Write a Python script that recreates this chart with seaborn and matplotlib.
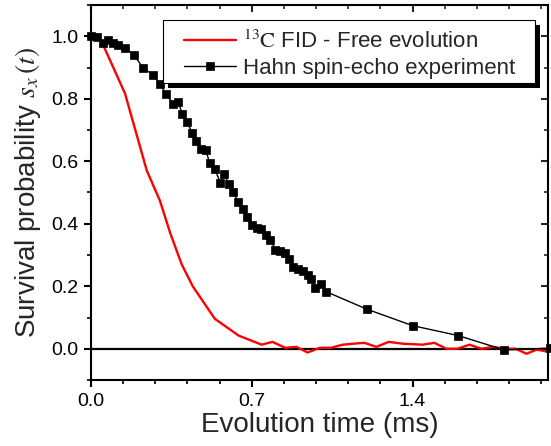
import numpy as np
import pandas as pd
import matplotlib
matplotlib.use("Agg")
import matplotlib.pyplot as plt
from matplotlib.patches import Rectangle
import seaborn as sns

# ---- data ----
fid_t = [0.0, 0.045, 0.148, 0.243, 0.30, 0.345, 0.395, 0.443, 0.539, 0.643, 0.743, 0.79,
         0.846, 0.895, 0.943, 0.996, 1.045, 1.096, 1.14, 1.19, 1.243, 1.296, 1.36,
         1.445, 1.495, 1.548, 1.596, 1.648, 1.70, 1.75, 1.80, 1.85, 1.896, 1.94, 1.966, 1.99]
fid_s = [1.0, 0.985, 0.817, 0.57, 0.474, 0.37, 0.27, 0.20, 0.096, 0.042, 0.013, 0.022,
         0.003, 0.006, -0.012, 0.003, 0.003, 0.013, 0.016, 0.019, 0.006, 0.022, 0.016,
         0.013, 0.019, 0.0, 0.0, 0.013, 0.0, 0.006, 0.0, 0.0, -0.016, -0.003, -0.006, -0.01]

echo_t = [0.0, 0.027, 0.054, 0.075, 0.097, 0.119, 0.148, 0.188, 0.228, 0.271, 0.30, 0.325,
          0.358, 0.38, 0.398, 0.419, 0.441, 0.459, 0.481, 0.50, 0.517, 0.539, 0.563, 0.58,
          0.60, 0.62, 0.64, 0.66, 0.681, 0.701, 0.723, 0.742, 0.764, 0.781, 0.803, 0.822,
          0.843, 0.861, 0.88, 0.901, 0.923, 0.945, 0.959, 0.976, 1.0, 1.023,
          1.20, 1.40, 1.60, 1.80, 2.0]
echo_s = [1.0, 0.998, 0.977, 0.987, 0.98, 0.971, 0.963, 0.94, 0.897, 0.877, 0.848, 0.816,
          0.784, 0.79, 0.75, 0.725, 0.69, 0.664, 0.64, 0.635, 0.594, 0.576, 0.531, 0.558,
          0.527, 0.501, 0.47, 0.448, 0.421, 0.397, 0.387, 0.384, 0.365, 0.349, 0.317, 0.312,
          0.306, 0.288, 0.263, 0.255, 0.248, 0.237, 0.223, 0.196, 0.206, 0.183,
          0.127, 0.074, 0.042, -0.004, 0.002]

x_ticks = [0.0, 0.7, 1.4]
x_ticklabels = ["0.0", "0.7", "1.4"]
y_ticks = [0.0, 0.2, 0.4, 0.6, 0.8, 1.0]
y_ticklabels = ["0.0", "0.2", "0.4", "0.6", "0.8", "1.0"]

label_fid = r"$^{13}\mathrm{C}$ FID - Free evolution"
label_echo = "Hahn spin-echo experiment"

# ---- style ----
sns.set_theme(style="ticks")
plt.rcParams["font.family"] = ["Liberation Sans", "DejaVu Sans"]
plt.rcParams["mathtext.fontset"] = "stix"

W, H = 551, 446
fig = plt.figure(figsize=(W / 100, H / 100), dpi=100)
L, R, T, B = 91, 548, 5, 380
ax = fig.add_axes([L / W, 1 - B / H, (R - L) / W, (B - T) / H])

ax.axhline(0, color="black", lw=1.6, zorder=1)

sns.lineplot(x=fid_t, y=fid_s, color="red", lw=1.7, ax=ax, label=label_fid, zorder=3)
sns.lineplot(x=echo_t, y=echo_s, color="black", lw=1.0, marker="s", markersize=5.8,
             markeredgecolor="black", markeredgewidth=0.5, ax=ax, label=label_echo,
             zorder=4, clip_on=False)

ax.set_xlim(0, 1.99)
ax.set_ylim(-0.1, 1.1)
ax.set_xticks(x_ticks)
ax.set_xticklabels(x_ticklabels)
ax.set_yticks(y_ticks)
ax.set_yticklabels(y_ticklabels)
ax.set_xticks(np.arange(0, 2.0, 0.14), minor=True)
ax.set_yticks(np.arange(-0.1, 1.11, 0.1), minor=True)

for s in ax.spines.values():
    s.set_visible(True)
    s.set_linewidth(1.5)
    s.set_color("black")

ax.tick_params(which="major", direction="out", length=5, width=1.5, labelsize=14,
               colors="black", pad=4)
ax.tick_params(which="minor", direction="out", length=3, width=1.2, colors="black")

# mirrored inward ticks on top / right
top = ax.secondary_xaxis("top")
top.set_xticks(x_ticks)
top.set_xticks(np.arange(0, 2.0, 0.14), minor=True)
top.tick_params(which="major", direction="in", length=5, width=1.5, labeltop=False)
top.tick_params(which="minor", direction="in", length=3, width=1.2)
top.set_xticklabels([])
right = ax.secondary_yaxis("right")
right.set_yticks(y_ticks)
right.set_yticks(np.arange(-0.1, 1.11, 0.1), minor=True)
right.tick_params(which="major", direction="in", length=5, width=1.5, labelright=False)
right.tick_params(which="minor", direction="in", length=3, width=1.2)
right.set_yticklabels([])

ax.set_xlabel("Evolution time (ms)", fontsize=20, labelpad=2)
ax.set_ylabel(r"Survival probability $s_x\,(t)$", fontsize=20, labelpad=6)

# legend box (frame + solid black shadow), pixel geometry of the reference
def ax_x(px):
    return (px - L) / (R - L)

def ax_y(py):
    return (B - py) / (B - T)

bx0, bx1, by0, by1 = 163, 535, 20, 83
shadow = Rectangle((ax_x(bx0 + 5), ax_y(by1 + 5)), ax_x(bx1) - ax_x(bx0),
                   ax_y(by0) - ax_y(by1), transform=ax.transAxes,
                   facecolor="black", edgecolor="none", zorder=8, clip_on=False)
ax.add_patch(shadow)
frame = Rectangle((ax_x(bx0), ax_y(by1)), ax_x(bx1) - ax_x(bx0),
                  ax_y(by0) - ax_y(by1), transform=ax.transAxes,
                  facecolor="white", edgecolor="black", lw=0.8, zorder=9, clip_on=False)
ax.add_patch(frame)

leg = ax.legend(loc="upper left", bbox_to_anchor=(ax_x(184), ax_y(30)),
                borderaxespad=0, borderpad=0, fontsize=16, frameon=False,
                handlelength=2.35, handletextpad=0.3, labelspacing=0.25)
leg.set_zorder(10)

fig.savefig("out.png", dpi=100)
